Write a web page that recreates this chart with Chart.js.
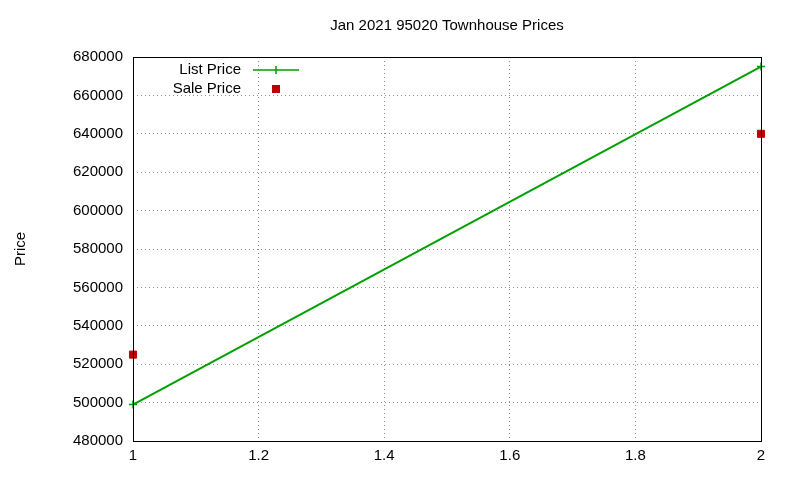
<!DOCTYPE html>
<html>
<head>
<meta charset="utf-8">
<script src="https://cdn.jsdelivr.net/npm/chart.js@4/dist/chart.umd.min.js"></script>
<style>
  html, body { margin: 0; padding: 0; background: #fff; }
  #wrap { width: 800px; height: 480px; }
</style>
</head>
<body>
<div id="wrap"><canvas id="chart"></canvas></div>
<script>
// Data
const titleText = "Jan 2021 95020 Townhouse Prices";
const xValues = [1, 2];
const listPrice = [499000, 675000];
const salePrice = [525000, 640000];

const FONT = "'Liberation Sans', Arial, sans-serif";

// Draws title, border box and inside legend like gnuplot
const gnuplotDecor = {
  id: "gnuplotDecor",
  afterDraw(chart) {
    const { ctx, chartArea: a } = chart;
    ctx.save();
    ctx.strokeStyle = "#000";
    ctx.lineWidth = 1;
    ctx.strokeRect(a.left + 0.5, a.top + 0.5, a.right - a.left, a.bottom - a.top);

    ctx.fillStyle = "#000";
    ctx.font = "15px " + FONT;
    ctx.textAlign = "center";
    ctx.textBaseline = "middle";
    ctx.fillText(titleText, (a.left + a.right) / 2 + 0, 26);

    // Legend
    ctx.textAlign = "right";
    const rows = [70, 89];
    chart.data.datasets.forEach((ds, i) => {
      const y = rows[i];
      ctx.fillStyle = "#000";
      ctx.fillText(ds.label, 241, y);
      if (i === 0) {
        ctx.strokeStyle = ds.borderColor;
        ctx.lineWidth = 1.5;
        ctx.beginPath();
        ctx.moveTo(253, y);
        ctx.lineTo(299, y);
        ctx.moveTo(276, y - 4);
        ctx.lineTo(276, y + 4);
        ctx.stroke();
      } else {
        ctx.fillStyle = ds.backgroundColor;
        ctx.fillRect(272, y - 4, 8, 8);
      }
    });
    ctx.restore();
  }
};

const tickFont = { family: FONT, size: 15 };

new Chart(document.getElementById("chart"), {
  type: "scatter",
  data: {
    datasets: [
      {
        label: "List Price",
        data: xValues.map((x, i) => ({ x, y: listPrice[i] })),
        showLine: true,
        borderColor: "#00a000",
        backgroundColor: "#00a000",
        borderWidth: 2,
        pointStyle: "cross",
        pointRadius: 4,
        pointBorderWidth: 1.5,
        clip: false
      },
      {
        label: "Sale Price",
        data: xValues.map((x, i) => ({ x, y: salePrice[i] })),
        showLine: false,
        borderColor: "#c00000",
        backgroundColor: "#c00000",
        pointStyle: "rect",
        pointRadius: 5,
        clip: false
      }
    ]
  },
  options: {
    responsive: true,
    maintainAspectRatio: false,
    animation: false,
    layout: { padding: { top: 57, right: 39, left: 0, bottom: 0 } },
    plugins: { legend: { display: false }, title: { display: false }, tooltip: { enabled: false } },
    scales: {
      x: {
        type: "linear",
        min: 1,
        max: 2,
        ticks: { stepSize: 0.2, color: "#000", font: tickFont, padding: 6,
          callback: (v) => String(Math.round(v * 10) / 10) },
        grid: { color: "#909090", drawTicks: false },
        border: { display: false, dash: [1, 3] },
        afterFit(s) { s.height = 39; }
      },
      y: {
        min: 480000,
        max: 680000,
        ticks: { stepSize: 20000, color: "#000", font: tickFont, padding: 10,
          callback: (v) => String(v) },
        grid: { color: "#909090", drawTicks: false },
        border: { display: false, dash: [1, 3] },
        title: { display: true, text: "Price", color: "#000", font: tickFont, padding: { top: 12 } },
        afterFit(s) { s.width = 133; }
      }
    }
  },
  plugins: [gnuplotDecor]
});
</script>
</body>
</html>
